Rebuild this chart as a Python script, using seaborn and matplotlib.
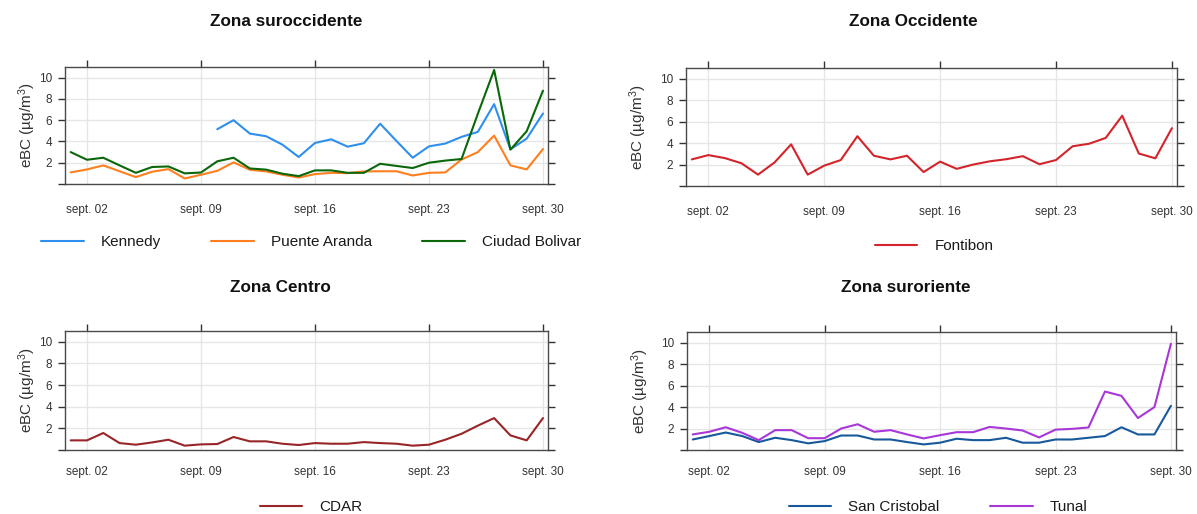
import numpy as np
import pandas as pd
import matplotlib
matplotlib.use("Agg")
import matplotlib.pyplot as plt
import matplotlib.dates as mdates
from matplotlib.ticker import FuncFormatter, FixedLocator
import seaborn as sns

# Daily eBC concentrations (µg/m³), September
fechas = pd.date_range("2023-09-01", "2023-09-30", freq="D")

kennedy = [np.nan] * 9 + [5.15, 6.0, 4.74, 4.49, 3.7, 2.54, 3.86, 4.2, 3.51, 3.83,
                          5.67, 4.05, 2.47, 3.54, 3.8, 4.43, 4.9, 7.51, 3.26, 4.27, 6.63]
puente_aranda = [1.09, 1.37, 1.75, 1.2, 0.65, 1.15, 1.4, 0.52, 0.87, 1.24,
                 2.03, 1.34, 1.18, 0.87, 0.61, 0.93, 1.05, 1.02, 1.18, 1.2,
                 1.2, 0.8, 1.05, 1.09, 2.3, 3.0, 4.55, 1.75, 1.37, 3.29]
ciudad_bolivar = [3.0, 2.28, 2.47, 1.75, 1.05, 1.6, 1.65, 1.0, 1.08, 2.13,
                  2.47, 1.46, 1.35, 0.97, 0.74, 1.28, 1.28, 1.05, 1.05, 1.9,
                  1.7, 1.5, 2.0, 2.2, 2.35, 6.6, 10.72, 3.23, 4.96, 8.77]
fontibon = [2.48, 2.88, 2.6, 2.12, 1.06, 2.2, 3.88, 1.06, 1.9, 2.42,
            4.64, 2.82, 2.48, 2.82, 1.3, 2.27, 1.6, 2.0, 2.3, 2.5,
            2.78, 2.03, 2.42, 3.7, 3.94, 4.48, 6.55, 3.03, 2.58, 5.39]
cdar = [0.89, 0.89, 1.57, 0.64, 0.49, 0.7, 0.95, 0.4, 0.52, 0.55,
        1.2, 0.8, 0.8, 0.58, 0.46, 0.64, 0.58, 0.58, 0.73, 0.64,
        0.58, 0.4, 0.49, 0.95, 1.5, 2.25, 2.95, 1.35, 0.89, 2.95]
san_cristobal = [0.98, 1.3, 1.63, 1.3, 0.74, 1.14, 0.92, 0.62, 0.83, 1.35,
                 1.35, 0.98, 0.98, 0.74, 0.52, 0.68, 1.05, 0.92, 0.92, 1.14,
                 0.68, 0.68, 0.98, 0.98, 1.14, 1.3, 2.12, 1.45, 1.45, 4.12]
tunal = [1.45, 1.7, 2.12, 1.6, 0.92, 1.85, 1.85, 1.1, 1.1, 2.0,
         2.4, 1.7, 1.85, 1.45, 1.08, 1.38, 1.66, 1.66, 2.15, 2.0,
         1.82, 1.17, 1.9, 1.97, 2.1, 5.45, 5.05, 2.98, 4.0, 9.9]

zonas = ["Zona suroccidente", "Zona Occidente", "Zona Centro", "Zona suroriente"]
estaciones = {
    "Zona suroccidente": [("Kennedy", kennedy), ("Puente Aranda", puente_aranda),
                          ("Ciudad Bolivar", ciudad_bolivar)],
    "Zona Occidente": [("Fontibon", fontibon)],
    "Zona Centro": [("CDAR", cdar)],
    "Zona suroriente": [("San Cristobal", san_cristobal), ("Tunal", tunal)],
}
colores = {
    "Kennedy": "#2E8FEF", "Puente Aranda": "#FF7F1E", "Ciudad Bolivar": "#0A670A",
    "Fontibon": "#D4242B", "CDAR": "#982527",
    "San Cristobal": "#17599A", "Tunal": "#A837DA",
}
ticks_fechas = pd.to_datetime(["2023-09-02", "2023-09-09", "2023-09-16",
                               "2023-09-23", "2023-09-30"])
ticks_y = [0, 2, 4, 6, 8, 10]

sns.set_style("white")
plt.rcParams["font.family"] = ["Liberation Sans", "DejaVu Sans"]
plt.rcParams["mathtext.fontset"] = "custom"
plt.rcParams["mathtext.rm"] = "Liberation Sans"
plt.rcParams["mathtext.it"] = "Liberation Sans:italic"

W, H = 1197, 514
fig = plt.figure(figsize=(W / 100, H / 100), dpi=100)


def caja(l, t, r, b):
    return [l / W, 1 - b / H, (r - l) / W, (b - t) / H]


# panel boxes in pixels (left, top, right, bottom), title centre,
# legend centre, y-label centre column, date-label pad
paneles = [
    ((65, 67, 548, 184), (286, 22), (311, 242), 27, 9),
    ((686, 68, 1177, 186), (913, 22), (934, 246), 638, 9),
    ((65, 331, 548, 450), (280, 287), (311, 507), 27, 6.5),
    ((687, 332, 1176, 450), (906, 287), (938, 507), 640, 6.5),
]

gris_eje = "#4a4a4a"
x0 = fechas[0] - pd.Timedelta(hours=8.4)
x1 = fechas[-1] + pd.Timedelta(hours=7.4)

for zona, ((l, t, r, b), (tx, ty), (lx, ly), yl, xpad) in zip(zonas, paneles):
    ax = fig.add_axes(caja(l, t, r, b))
    for nombre, valores in estaciones[zona]:
        df = pd.DataFrame({"fecha": fechas, "eBC": valores})
        sns.lineplot(data=df, x="fecha", y="eBC", ax=ax, color=colores[nombre],
                     lw=1.5, label=nombre, estimator=None)
    ax.set_xlim(x0, x1)
    ax.set_ylim(0, 11)
    ax.xaxis.set_major_locator(FixedLocator(mdates.date2num(ticks_fechas)))
    ax.xaxis.set_major_formatter(FuncFormatter(
        lambda v, p: "sept. %02d" % mdates.num2date(v).day))
    ax.set_yticks(ticks_y)
    ax.set_yticklabels([""] + [str(v) for v in ticks_y[1:]])
    ax.grid(True, color="#e6e6e6", lw=1.0)
    ax.set_axisbelow(True)
    for s in ax.spines.values():
        s.set_color(gris_eje)
        s.set_linewidth(1.0)
    ax.tick_params(axis="y", left=True, right=True, labelright=False,
                   direction="out", length=5.3, width=1.0, color="#333333",
                   labelsize=8.5, labelcolor="#333333", pad=4)
    ax.tick_params(axis="x", top=True, bottom=False, labeltop=False,
                   direction="out", length=5.3, width=1.0, color="#333333",
                   labelsize=8.5, labelcolor="#333333", pad=xpad)
    ax.set_xlabel("")
    ax.set_ylabel("eBC (µg/m$^{3}$)", fontsize=11, color="#333333")
    ax.yaxis.set_label_coords((yl - l) / (r - l), 0.5)
    ax.yaxis.label.set_verticalalignment("center")
    fig.text(tx / W, 1 - ty / H, zona, ha="center", va="center",
             fontsize=12.3, fontweight="bold", color="#111111")
    ax.legend(loc="center", bbox_to_anchor=((lx - l) / (r - l), (b - ly) / (b - t)),
              ncol=len(estaciones[zona]), frameon=False, fontsize=11,
              handlelength=2.8, handletextpad=1.1, columnspacing=3.3,
              labelcolor="#1a1a1a")

fig.savefig("out.png", dpi=100, facecolor="white")
